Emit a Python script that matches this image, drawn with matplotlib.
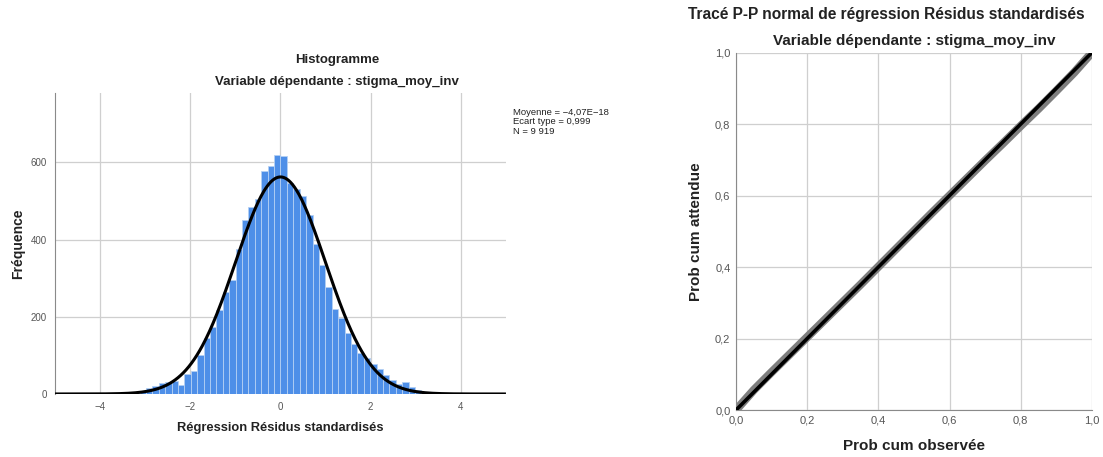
import numpy as np
import matplotlib
matplotlib.use("Agg")
import matplotlib.pyplot as plt

plt.rcParams['font.family'] = ['Liberation Sans', 'DejaVu Sans']

# --- histogram of standardized residuals (counts) ---
bin_width = 0.142
counts = [3, 7, 15, 21, 28, 30, 34, 22, 52, 60,
          101, 144, 174, 217, 265, 295, 377, 450, 485, 506,
          577, 591, 620, 616, 546, 532, 512, 463, 388, 333,
          278, 219, 197, 157, 129, 107, 92, 78, 64, 50,
          36, 27, 30, 17, 10, 3]
first_bin = -23  # left edge index, in units of bin_width

mean_res = -4.07e-18
sd_res = 0.999
n_obs = 9919

hist_xticks = [-4, -2, 0, 2, 4]
hist_yticks = [0, 200, 400, 600]

# --- P-P plot (observed vs expected cumulative prob) ---
pp_observed = [0.0, 0.05, 0.10, 0.15, 0.20, 0.25, 0.30, 0.35, 0.40, 0.45, 0.50,
               0.55, 0.60, 0.65, 0.70, 0.75, 0.80, 0.85, 0.90, 0.95, 1.0]
pp_expected = [0.0, 0.056, 0.106, 0.155, 0.204, 0.253, 0.302, 0.351, 0.401, 0.451, 0.501,
               0.551, 0.600, 0.649, 0.698, 0.746, 0.795, 0.843, 0.893, 0.944, 1.0]
pp_ticks = [0.0, 0.2, 0.4, 0.6, 0.8, 1.0]
pp_ticklabels = ["0,0", "0,2", "0,4", "0,6", "0,8", "1,0"]

bar_color = "#4E8FE8"
grid_color = "#CFCFCF"
text_color = "#222222"
tick_color = "#555555"

fig = plt.figure(figsize=(11.03, 4.57), dpi=100)

# ---------------- Histogram ----------------
ax1 = fig.add_axes([0.0499, 0.1379, 0.4088, 0.6586])
edges = (first_bin + np.arange(len(counts))) * bin_width
ax1.bar(edges, counts, width=bin_width, align="edge", color=bar_color,
        edgecolor="#B4D0F4", linewidth=0.6, zorder=2)

xs = np.linspace(-5, 5, 500)
curve = n_obs * bin_width * np.exp(-0.5 * ((xs - mean_res) / sd_res) ** 2) / (sd_res * np.sqrt(2 * np.pi))
ax1.plot(xs, curve, color="black", lw=2.2, zorder=3, solid_capstyle="butt")

ax1.set_xlim(-5, 5)
ax1.set_ylim(0, 780)
ax1.set_xticks(hist_xticks)
ax1.set_xticklabels([f"{t:d}".replace("-", "\u2212") for t in hist_xticks])
ax1.set_yticks(hist_yticks)
ax1.grid(True, color=grid_color, lw=0.9, zorder=0)
ax1.set_axisbelow(True)
for s in ["top", "right", "bottom"]:
    ax1.spines[s].set_visible(False)
ax1.spines["left"].set_color("#8A8A8A")
ax1.tick_params(length=0, labelsize=7, colors=tick_color, pad=6)
ax1.set_xlabel("Régression Résidus standardisés", fontsize=9.3, fontweight="bold",
               color=text_color, labelpad=7)
ax1.set_ylabel("Fréquence", fontsize=10, fontweight="bold", color=text_color, labelpad=4)

fig.text(337 / 1103, 1 - 60 / 457, "Histogramme", ha="center", va="center",
         fontsize=9.5, fontweight="bold", color=text_color)
fig.text(337 / 1103, 1 - 82 / 457, "Variable dépendante : stigma_moy_inv", ha="center",
         va="center", fontsize=9.5, fontweight="bold", color=text_color)
fig.text(513 / 1103, 1 - 108 / 457,
         "Moyenne = \u22124,07E\u221218\nEcart type = 0,999\nN = 9 919",
         ha="left", va="top", fontsize=6.8, color=text_color, linespacing=1.05)

# ---------------- P-P plot ----------------
ax2 = fig.add_axes([0.6673, 0.1028, 0.3227, 0.7823])
ax2.plot(pp_observed, pp_expected, color="#7E7E7E", lw=6, zorder=2,
         solid_capstyle="round")
ax2.plot([0, 1], [0, 1], color="black", lw=2.6, zorder=3)
ax2.set_xlim(0, 1)
ax2.set_ylim(0, 1)
ax2.set_xticks(pp_ticks)
ax2.set_xticklabels(pp_ticklabels)
ax2.set_yticks(pp_ticks)
ax2.set_yticklabels(pp_ticklabels)
ax2.grid(True, color=grid_color, lw=0.9, zorder=0)
ax2.set_axisbelow(True)
for s in ["top", "right"]:
    ax2.spines[s].set_visible(False)
for s in ["left", "bottom"]:
    ax2.spines[s].set_color("#8A8A8A")
ax2.tick_params(length=0, labelsize=8, colors=tick_color, pad=4)
ax2.set_xlabel("Prob cum observée", fontsize=11, fontweight="bold",
               color=text_color, labelpad=10)
ax2.set_ylabel("Prob cum attendue", fontsize=11, fontweight="bold",
               color=text_color, labelpad=9)

fig.text(886 / 1103, 1 - 14 / 457, "Tracé P-P normal de régression Résidus standardisés",
         ha="center", va="center", fontsize=11.2, fontweight="bold", color=text_color)
fig.text(914 / 1103, 1 - 41 / 457, "Variable dépendante : stigma_moy_inv",
         ha="center", va="center", fontsize=11, fontweight="bold", color=text_color)

fig.savefig("out.png", dpi=100)
